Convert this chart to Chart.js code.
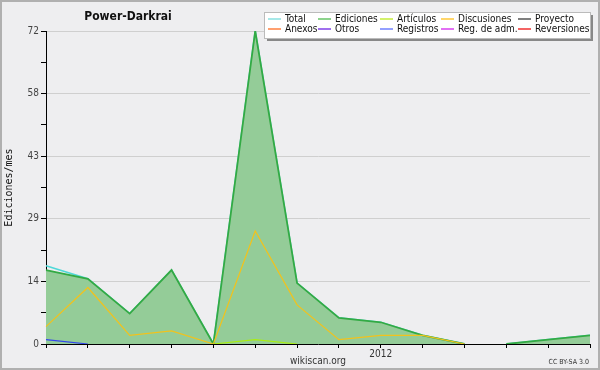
<!DOCTYPE html>
<html>
<head>
<meta charset="utf-8">
<script src="https://cdn.jsdelivr.net/npm/chart.js@4"></script>
<style>
  html, body { margin: 0; padding: 0; background: #eeeef0; }
  #wrap { width: 600px; height: 370px; }
</style>
</head>
<body>
<div id="wrap"><canvas id="chart" width="600" height="370"></canvas></div>
<script>
// ---------------- DATA ----------------
const months = ['2011-05', '2011-06', '2011-07', '2011-08', '2011-09', '2011-10', '2011-11',
  '2011-12', '2012-01', '2012-02', '2012-03', '2012-04', '2012-05', '2012-06'];
const tickLabels = ['', '', '', '', '', '', '', '', '2012', '', '', '', '', ''];
const yTicks = [0, 14, 29, 43, 58, 72];

const total = [18, 15, 7, 17, 0, 72, 14, 6, 5, 2, 0, 0, 1, 2];
const ediciones = [17, 15, 7, 17, 0, 72, 14, 6, 5, 2, 0, 0, 1, 2];
const articulos = [null, null, null, null, 0, 1, 0, null, null, null, null, null, null, null];
const discusiones = [4, 13, 2, 3, 0, 26, 9, 1, 2, 2, 0, null, null, null];
const registros = [1, 0, null, null, null, null, null, null, null, null, null, null, null, null];

const seriesNames = ['Total', 'Ediciones', 'Artículos', 'Discusiones', 'Proyecto',
  'Anexos', 'Otros', 'Registros', 'Reg. de adm.', 'Reversiones'];

// ---------------- STYLE ----------------
const colors = {
  Total: '#4fd8d8',
  Ediciones: '#33aa44',
  'Artículos': '#aaee11',
  Discusiones: '#f2c21c',
  Proyecto: '#555555',
  Anexos: '#ff8844',
  Otros: '#8844ee',
  Registros: '#3344ee',
  'Reg. de adm.': '#dd44ee',
  Reversiones: '#ee3333',
};
const legendColors = {
  Total: '#88e0e0',
  Ediciones: '#66c466',
  'Artículos': '#c4ec3a',
  Discusiones: '#ffc83a',
  Proyecto: '#555555',
  Anexos: '#ff8040',
  Otros: '#8040e8',
  Registros: '#7080ff',
  'Reg. de adm.': '#d840f0',
  Reversiones: '#f03030',
};
const BG = '#eeeef0';
const FONT = "'DejaVu Sans Condensed', 'DejaVu Sans', sans-serif";

const seriesData = {
  Total: total,
  Ediciones: ediciones,
  'Artículos': articulos,
  Discusiones: discusiones,
  Registros: registros,
};

// hide segments lying flat on the x axis (covered by the axis in the original)
const hideFlat = (ctx) => (ctx.p0.parsed.y === 0 && ctx.p1.parsed.y === 0 ? 'transparent' : undefined);

const datasets = seriesNames.map((name) => {
  const ds = {
    label: name,
    data: seriesData[name] || [],
    borderColor: colors[name],
    borderWidth: 1.2,
    pointRadius: 0,
    tension: 0,
    fill: false,
    order: 1,
    segment: { borderColor: hideFlat },
  };
  if (name === 'Total') { ds.order = 10; ds.borderWidth = 1.6; }
  if (name === 'Ediciones') {
    ds.order = 9;
    ds.borderWidth = 1.8;
    ds.fill = 'origin';
    ds.backgroundColor = '#94cc98';
  }
  return ds;
});

// ---------------- PLUGINS ----------------
const frame = {
  id: 'frame',
  beforeDraw(chart) {
    const { ctx, width, height } = chart;
    ctx.save();
    ctx.fillStyle = BG;
    ctx.fillRect(0, 0, width, height);
    ctx.strokeStyle = '#b0b0b0';
    ctx.lineWidth = 2;
    ctx.strokeRect(1, 1, width - 2, height - 2);
    ctx.restore();
  },
  afterDraw(chart) {
    const { ctx } = chart;
    ctx.save();
    // title
    ctx.fillStyle = '#111';
    ctx.font = `bold 12px ${FONT}`;
    ctx.textAlign = 'center';
    ctx.textBaseline = 'middle';
    ctx.fillText('Power-Darkrai', 128, 17);

    // licence
    ctx.fillStyle = '#333';
    ctx.font = `7px ${FONT}`;
    ctx.textAlign = 'right';
    ctx.fillText('CC BY-SA 3.0', 589, 362);

    // legend box with shadow
    const bx = 264, by = 12, bw = 326, bh = 26;
    ctx.fillStyle = '#888';
    ctx.fillRect(bx + 3, by + 3, bw, bh);
    ctx.fillStyle = '#fff';
    ctx.fillRect(bx, by, bw, bh);
    ctx.strokeStyle = '#bbb';
    ctx.lineWidth = 1;
    ctx.strokeRect(bx + 0.5, by + 0.5, bw, bh);

    const colX = [268, 318, 380, 441, 518];
    const rowY = [19, 29];
    ctx.font = `10px ${FONT}`;
    ctx.textAlign = 'left';
    chart.data.datasets.forEach((ds, i) => {
      const x = colX[i % 5];
      const y = rowY[Math.floor(i / 5)];
      ctx.strokeStyle = legendColors[ds.label];
      ctx.lineWidth = 1.5;
      ctx.beginPath();
      ctx.moveTo(x, y);
      ctx.lineTo(x + 13, y);
      ctx.stroke();
      ctx.fillStyle = '#111';
      ctx.fillText(ds.label, x + 17, y + 0.5);
    });
    ctx.restore();
  },
};

// ---------------- CHART ----------------
Chart.defaults.font.family = FONT;
Chart.defaults.animation = false;

new Chart(document.getElementById('chart'), {
  type: 'line',
  data: { labels: months, datasets },
  options: {
    responsive: false,
    layout: { padding: { top: 31, right: 10, left: 0, bottom: 0 } },
    plugins: { legend: { display: false }, title: { display: false }, tooltip: { enabled: false } },
    scales: {
      x: {
        type: 'category',
        offset: false,
        grid: { drawOnChartArea: false, tickColor: '#000', tickLength: 4 },
        border: { color: '#000', width: 1 },
        ticks: {
          autoSkip: false,
          maxRotation: 0,
          padding: 0,
          color: '#333',
          font: { size: 10 },
          callback: (v, i) => tickLabels[i],
        },
        title: { display: true, text: 'wikiscan.org', color: '#333', font: { size: 10 }, padding: { top: 0, bottom: 3 } },
        afterFit: (s) => { s.height = 26; },
      },
      y: {
        min: 0,
        max: 72,
        grid: {
          color: (c) => (c.index % 2 === 0 && c.index > 0 ? '#cfcfcf' : 'transparent'),
          tickColor: '#000',
          tickLength: 5,
        },
        border: { color: '#000', width: 1 },
        ticks: {
          stepSize: 7.2,
          padding: 2,
          color: '#444',
          font: { size: 10 },
          callback: (v, i) => (i % 2 === 0 ? String(yTicks[i / 2]) : ''),
        },
        title: {
          display: true,
          text: 'Ediciones/mes',
          color: '#111',
          font: { family: "'DejaVu Sans Mono', monospace", size: 10 },
          padding: { top: 3, bottom: 0 },
        },
        afterFit: (s) => { s.width = 46; },
      },
    },
  },
  plugins: [frame],
});
</script>
</body>
</html>
